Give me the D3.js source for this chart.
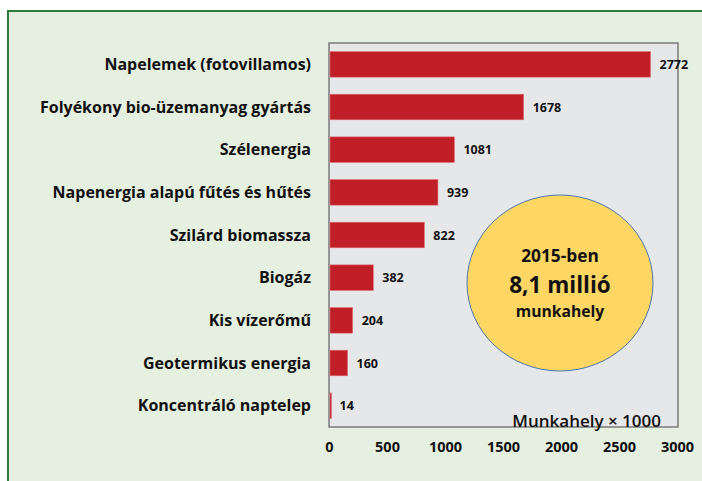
<!DOCTYPE html>
<html>
<head>
<meta charset="utf-8">
<script src="https://cdn.jsdelivr.net/npm/d3@7"></script>
<style>
  body { margin: 0; background: #fff; }
  svg { display: block; font-family: "Open Sans", sans-serif; }
</style>
</head>
<body>
<svg id="chart" width="702" height="481"></svg>
<script>
// data
var categories = [
    'Napelemek (fotovillamos)',
    'Folyékony bio-üzemanyag gyártás',
    'Szélenergia',
    'Napenergia alapú fűtés és hűtés',
    'Szilárd biomassza',
    'Biogáz',
    'Kis vízerőmű',
    'Geotermikus energia',
    'Koncentráló naptelep'
];
var jobs = [2772, 1678, 1081, 939, 822, 382, 204, 160, 14];
var xTicks = [0, 500, 1000, 1500, 2000, 2500, 3000];
var circleLines = ['2015-ben', '8,1 millió', 'munkahely'];
var unitLabel = 'Munkahely × 1000';

var svg = d3.select('#chart');

// outer green frame (cropped at right/bottom)
svg.append('rect')
    .attr('x', 8).attr('y', 11)
    .attr('width', 720).attr('height', 500)
    .attr('fill', '#e5f0e0')
    .attr('stroke', '#2f7a3f')
    .attr('stroke-width', 2);

var plot = {l: 329, t: 43, r: 678, b: 427};

var x = d3.scaleLinear().domain([0, 3000]).range([plot.l, 677]);
var y = d3.scaleBand().domain(categories).range([plot.t, plot.b])
    .paddingInner(0.4).paddingOuter(0.2);

// plot background
svg.append('rect')
    .attr('x', plot.l).attr('y', plot.t)
    .attr('width', plot.r - plot.l).attr('height', plot.b - plot.t)
    .attr('fill', '#e6e7e9')
    .attr('stroke', '#7a7a7a')
    .attr('stroke-width', 1.5);

var rows = categories.map(function(c, i) { return {cat: c, val: jobs[i]}; });

svg.selectAll('.bar')
    .data(rows)
    .enter().append('rect')
    .attr('class', 'bar')
    .attr('x', x(0) + 1)
    .attr('y', function(d) { return y(d.cat); })
    .attr('width', function(d) { return Math.max(x(d.val) - x(0) - 1, 1.5); })
    .attr('height', y.bandwidth())
    .attr('fill', '#c01f28')
    .attr('stroke', '#e0707a')
    .attr('stroke-width', 0.6);

svg.selectAll('.val')
    .data(rows)
    .enter().append('text')
    .attr('class', 'val')
    .attr('x', function(d) { return x(d.val) + 9; })
    .attr('y', function(d) { return y(d.cat) + y.bandwidth() / 2; })
    .attr('dy', '0.36em')
    .attr('font-size', 12.5)
    .attr('font-weight', 700)
    .attr('fill', '#111')
    .text(function(d) { return d.val; });

// category labels
svg.selectAll('.cat')
    .data(rows)
    .enter().append('text')
    .attr('class', 'cat')
    .attr('x', 311)
    .attr('y', function(d) { return y(d.cat) + y.bandwidth() / 2; })
    .attr('dy', '0.36em')
    .attr('text-anchor', 'end')
    .attr('font-size', 16)
    .attr('font-weight', 700)
    .attr('fill', '#111')
    .text(function(d) { return d.cat; });

// x axis labels (no line, no ticks)
var xAxis = d3.axisBottom(x).tickValues(xTicks).tickSize(0).tickPadding(0)
    .tickFormat(d3.format('d'));
var ax = svg.append('g')
    .attr('transform', 'translate(0,' + (plot.b + 15) + ')')
    .call(xAxis);
ax.select('.domain').remove();
ax.selectAll('text')
    .attr('font-family', '"Open Sans", sans-serif')
    .attr('font-size', 14.5)
    .attr('font-weight', 700)
    .attr('fill', '#111');

// unit label
svg.append('text')
    .attr('x', 661).attr('y', 427)
    .attr('text-anchor', 'end')
    .attr('font-size', 17)
    .attr('font-weight', 600)
    .attr('fill', '#111')
    .text(unitLabel);

// highlight circle
var cx = 560, cy = 283;
svg.append('ellipse')
    .attr('cx', cx).attr('cy', cy)
    .attr('rx', 93).attr('ry', 88)
    .attr('fill', '#fdd664')
    .attr('stroke', '#4a78ad')
    .attr('stroke-width', 1);

var lineSizes = [17.3, 22.5, 15.7];
var lineY = [262, 293, 317];
svg.selectAll('.circ')
    .data(circleLines)
    .enter().append('text')
    .attr('class', 'circ')
    .attr('x', cx)
    .attr('y', function(d, i) { return lineY[i]; })
    .attr('text-anchor', 'middle')
    .attr('font-size', function(d, i) { return lineSizes[i]; })
    .attr('font-weight', 700)
    .attr('fill', '#111')
    .text(function(d) { return d; });
</script>
</body>
</html>
